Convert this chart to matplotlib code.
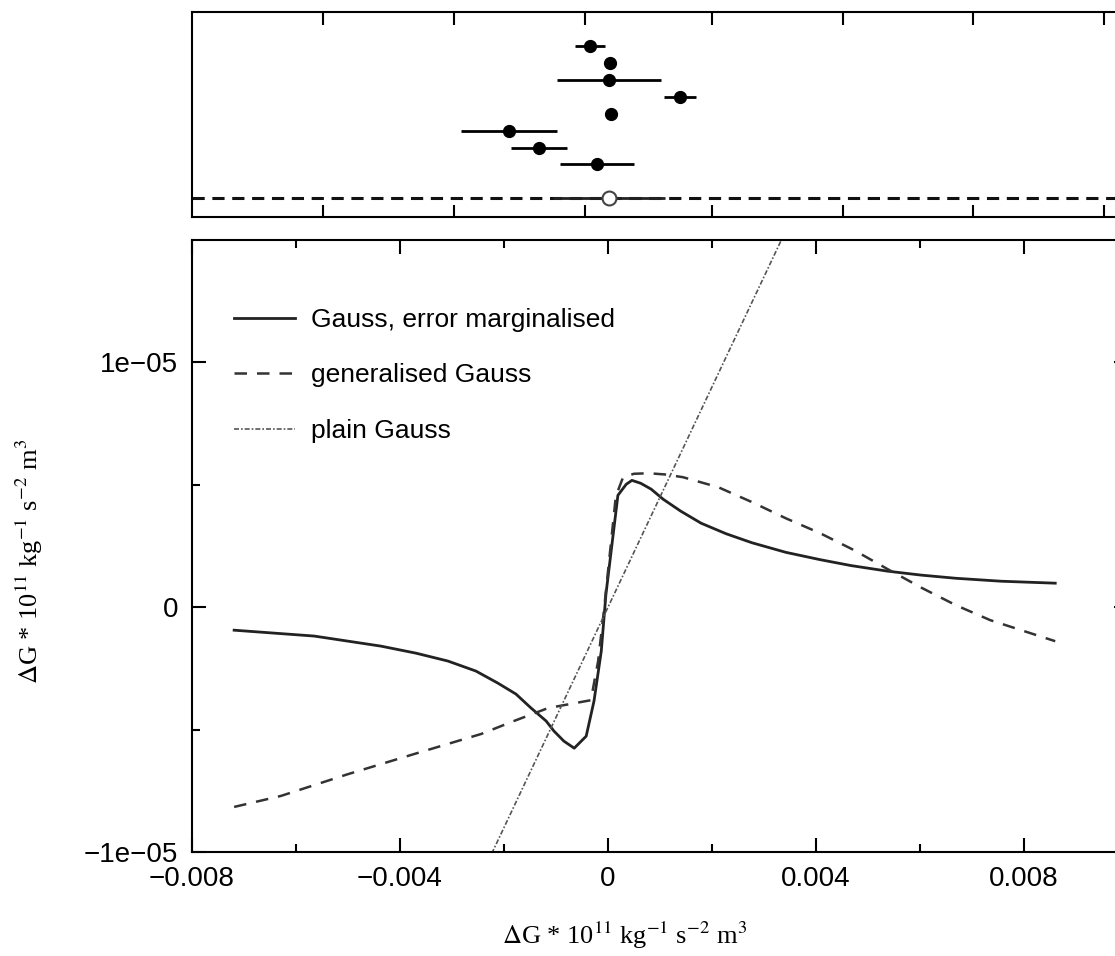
import matplotlib
matplotlib.use("Agg")
import matplotlib.pyplot as plt
import numpy as np

plt.rcParams['font.family'] = ['Liberation Sans', 'DejaVu Sans']
plt.rcParams['mathtext.fontset'] = 'stix'

# top panel: individual measurements (offsets), rows from bottom
meas_x = [-0.00035, 0.00004, 0.00002, 0.00138, 0.00006, -0.00190, -0.00133, -0.00021]
meas_err = [0.00029, 0.00005, 0.00100, 0.00031, 0.00002, 0.00092, 0.00054, 0.00071]
meas_row = [10, 9, 8, 7, 6, 5, 4, 3]
ref_x = [0.00002]
ref_err = [0.00108]
ref_row = [1]
top_ticks = [-0.00548, -0.00296, -0.00044, 0.00200, 0.00452, 0.00702, 0.00954]

# bottom panel: influence curves
gm_x = [-0.00719, -0.00565, -0.00437, -0.00369, -0.00308, -0.00254, -0.00212, -0.00177,
        -0.00148, -0.00119, -0.00104, -0.00085, -0.00065, -0.00042, -0.00027, -0.00013,
        -0.00004, 0.00019, 0.00035, 0.00046, 0.00063, 0.00083, 0.00106, 0.00140, 0.00179,
        0.00227, 0.00277, 0.00342, 0.00408, 0.00467, 0.00538, 0.00602, 0.00669, 0.00756,
        0.00860]
gm_y = [-0.94e-6, -1.18e-6, -1.59e-6, -1.88e-6, -2.20e-6, -2.61e-6, -3.10e-6, -3.55e-6,
        -4.12e-6, -4.65e-6, -5.06e-6, -5.47e-6, -5.76e-6, -5.27e-6, -3.84e-6, -1.80e-6,
        0.53e-6, 4.57e-6, 5.02e-6, 5.18e-6, 5.06e-6, 4.82e-6, 4.41e-6, 3.92e-6, 3.43e-6,
        3.00e-6, 2.63e-6, 2.24e-6, 1.94e-6, 1.70e-6, 1.47e-6, 1.31e-6, 1.18e-6, 1.06e-6,
        0.98e-6]

gg_x = [-0.00719, -0.00629, -0.00500, -0.00373, -0.00244, -0.00181, -0.00115, -0.00033,
        -0.00019, -0.00008, 0.00006, 0.00015, 0.00029, 0.00050, 0.00079, 0.00110, 0.00144,
        0.00212, 0.00277, 0.00342, 0.00408, 0.00473, 0.00538, 0.00604, 0.00669, 0.00735,
        0.00860]
gg_y = [-8.16e-6, -7.71e-6, -6.82e-6, -6.00e-6, -5.18e-6, -4.65e-6, -4.12e-6, -3.80e-6,
        -2.20e-6, -0.16e-6, 2.69e-6, 4.53e-6, 5.31e-6, 5.45e-6, 5.47e-6, 5.42e-6, 5.31e-6,
        4.90e-6, 4.29e-6, 3.63e-6, 3.02e-6, 2.33e-6, 1.55e-6, 0.78e-6, 0.08e-6, -0.53e-6,
        -1.39e-6]

pg_x = [-0.0025, 0.0035]
pg_y = [-1.125e-5, 1.575e-5]

labels = ['Gauss, error marginalised', 'generalised Gauss', 'plain Gauss']

fig = plt.figure(figsize=(11.15, 9.56), dpi=100)
ax_top = fig.add_axes([0.1722, 0.7730, 0.8395, 0.2144])
ax = fig.add_axes([0.1722, 0.1088, 0.8395, 0.6402])

# ---- top panel
ax_top.axhline(ref_row[0], color='#111111', lw=2.2, ls=(0, (4, 2.5)))
ax_top.errorbar(meas_x, meas_row, xerr=meas_err, fmt='o', color='black',
                ms=8.5, elinewidth=2, capsize=0)
ax_top.errorbar(ref_x, ref_row, xerr=ref_err, fmt='o', color='#222222', mfc='white',
                mec='#444444', mew=1.5, ms=10, elinewidth=2, capsize=0, zorder=3)
ax_top.set_xlim(-0.008, 0.01)
ax_top.set_ylim(-0.1, 12)
ax_top.set_xticks(top_ticks)
ax_top.set_xticklabels([])
ax_top.set_yticks([])
ax_top.tick_params(axis='x', direction='in', top=True, bottom=True, length=9, width=1.5)
for s in ax_top.spines.values():
    s.set_linewidth(1.5)

# ---- bottom panel
ax.plot(gm_x, gm_y, color='#222222', lw=2, label=labels[0])
ax.plot(gg_x, gg_y, color='#333333', lw=1.8, ls=(0, (5, 4)), label=labels[1])
ax.plot(pg_x, pg_y, color='#555555', lw=1.2, ls=(0, (3, 1.2, 1, 1.2)), label=labels[2])

ax.set_xlim(-0.008, 0.01)
ax.set_ylim(-1e-5, 1.5e-5)
ax.set_xticks([-0.008, -0.004, 0, 0.004, 0.008])
ax.set_xticklabels(['\u22120.008', '\u22120.004', '0', '0.004', '0.008'])
ax.set_xticks([-0.006, -0.002, 0.002, 0.006], minor=True)
ax.set_yticks([-1e-5, 0, 1e-5])
ax.set_yticklabels(['\u22121e\u221205', '0', '1e\u221205'])
ax.set_yticks([-5e-6, 5e-6], minor=True)
ax.tick_params(which='both', direction='in', top=True, right=True, labelsize=20, width=1.5)
ax.tick_params(which='major', length=10, pad=10)
ax.tick_params(which='minor', length=6)
for s in ax.spines.values():
    s.set_linewidth(1.5)

ax.legend(loc='upper left', bbox_to_anchor=(0.02, 0.928), frameon=False, fontsize=19,
          handlelength=2.3, handletextpad=0.6, labelspacing=1.2)

unit = r'$\Delta$G * 10$^{11}$ kg$^{-1}$ s$^{-2}$ m$^{3}$'
ax.set_xlabel(unit, family='Liberation Serif', fontsize=19)
ax.xaxis.set_label_coords(0.4626, -0.11)
ax.set_ylabel(unit, family='Liberation Serif', fontsize=19)
ax.yaxis.set_label_coords(-0.157, 0.475)

fig.savefig('out.png', dpi=100)
